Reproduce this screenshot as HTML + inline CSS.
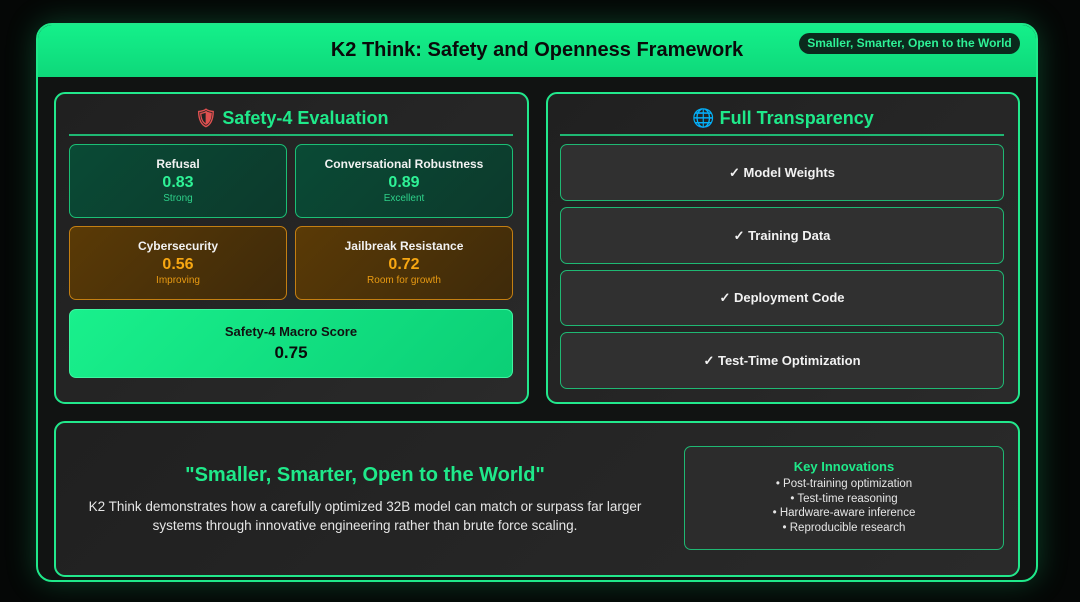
<!DOCTYPE html>
<html><head><meta charset="utf-8"><style>
*{margin:0;padding:0;box-sizing:border-box}
body{width:1080px;height:602px;background:#050706;font-family:"Liberation Sans",sans-serif;position:relative;overflow:hidden}
.a{position:absolute}
.c{text-align:center}
#outer{left:36px;top:23px;width:1002px;height:559px;border:2px solid #1fe98a;border-radius:16px;background:#111312;box-shadow:0 0 30px rgba(30,233,138,.25);overflow:hidden}
#hdr{left:0;top:0;width:100%;height:52px;background:linear-gradient(180deg,#14f08a,#0ed87a)}
.panel{border:2px solid #22e88c;border-radius:11px;background:linear-gradient(135deg,#202020,#2a2a2a)}
.card{border:1.5px solid #1bbf75;border-radius:7px}
.g{background:linear-gradient(135deg,#0a4a35,#0c3a2c)}
.o{background:linear-gradient(135deg,#5a3a06,#3e2a0a);border-color:#c47f12}
.ct{color:#f2f2f2;font-weight:bold;font-size:12px}
.item{left:560px;width:444px;border:1.5px solid #1fb873;border-radius:7px;background:#303030;color:#f2f2f2;font-weight:bold;font-size:13px;display:flex;align-items:center;justify-content:center}
</style></head><body>
<div class="a" id="outer"><div class="a" id="hdr"></div></div>
<div class="a c" style="left:36px;top:39px;width:1002px;font-size:20px;font-weight:bold;color:#0a0a0a">K2 Think: Safety and Openness Framework</div>
<div class="a c" style="left:799px;top:33px;width:221px;height:21px;border-radius:11px;background:#0b2a1d;color:#2ef296;font-size:12px;font-weight:bold;line-height:21px">Smaller, Smarter, Open to the World</div>

<div class="a panel" style="left:54px;top:92px;width:475px;height:312px"></div>
<div class="a c" style="left:54px;top:108px;width:475px;font-size:18px;font-weight:bold;color:#1fe98a"><span style="color:#e05050">🛡</span> Safety-4 Evaluation</div>
<div class="a" style="left:69px;top:134px;width:444px;height:1.5px;background:#1fb873"></div>

<div class="a card g c" style="left:69px;top:144px;width:218px;height:74px"><div class="ct" style="margin-top:12px">Refusal</div><div style="color:#2ef296;font-weight:bold;font-size:16px;margin-top:3px">0.83</div><div style="color:#2ed18a;font-size:10px;margin-top:1px">Strong</div></div>
<div class="a card g c" style="left:295px;top:144px;width:218px;height:74px"><div class="ct" style="margin-top:12px">Conversational Robustness</div><div style="color:#2ef296;font-weight:bold;font-size:16px;margin-top:3px">0.89</div><div style="color:#2ed18a;font-size:10px;margin-top:1px">Excellent</div></div>
<div class="a card o c" style="left:69px;top:226px;width:218px;height:74px"><div class="ct" style="margin-top:12px">Cybersecurity</div><div style="color:#f7a712;font-weight:bold;font-size:16px;margin-top:3px">0.56</div><div style="color:#e89a12;font-size:10px;margin-top:1px">Improving</div></div>
<div class="a card o c" style="left:295px;top:226px;width:218px;height:74px"><div class="ct" style="margin-top:12px">Jailbreak Resistance</div><div style="color:#f7a712;font-weight:bold;font-size:16px;margin-top:3px">0.72</div><div style="color:#e89a12;font-size:10px;margin-top:1px">Room for growth</div></div>
<div class="a c" style="left:69px;top:309px;width:444px;height:69px;border-radius:7px;background:linear-gradient(135deg,#19f08c,#0bcf76);border:1.5px solid #3ff5a0"><div style="font-size:13px;font-weight:bold;color:#111;margin-top:14px">Safety-4 Macro Score</div><div style="font-size:17px;font-weight:bold;color:#0a0a0a;margin-top:4px">0.75</div></div>

<div class="a panel" style="left:546px;top:92px;width:474px;height:312px"></div>
<div class="a c" style="left:546px;top:108px;width:474px;font-size:18px;font-weight:bold;color:#1fe98a"><span style="color:#6ab0e0">🌐</span> Full Transparency</div>
<div class="a" style="left:560px;top:134px;width:444px;height:1.5px;background:#1fb873"></div>
<div class="a item" style="top:144px;height:57px">✓ Model Weights</div>
<div class="a item" style="top:207px;height:57px">✓ Training Data</div>
<div class="a item" style="top:270px;height:56px">✓ Deployment Code</div>
<div class="a item" style="top:332px;height:57px">✓ Test-Time Optimization</div>

<div class="a panel" style="left:54px;top:421px;width:966px;height:156px"></div>
<div class="a c" style="left:80px;top:464px;width:570px;font-size:20px;font-weight:bold;color:#1fe98a">"Smaller, Smarter, Open to the World"</div>
<div class="a c" style="left:85px;top:497px;width:560px;font-size:13.5px;line-height:19px;color:#e6e6e6">K2 Think demonstrates how a carefully optimized 32B model can match or surpass far larger systems through innovative engineering rather than brute force scaling.</div>
<div class="a c" style="left:684px;top:446px;width:320px;height:104px;border:1.5px solid #1fb873;border-radius:7px;background:#2c2c2c">
<div style="font-size:13px;font-weight:bold;color:#1fe98a;margin-top:12px">Key Innovations</div>
<div style="font-size:11.5px;line-height:14.5px;color:#e6e6e6;margin-top:3px">• Post-training optimization<br>• Test-time reasoning<br>• Hardware-aware inference<br>• Reproducible research</div></div>
</body></html>
